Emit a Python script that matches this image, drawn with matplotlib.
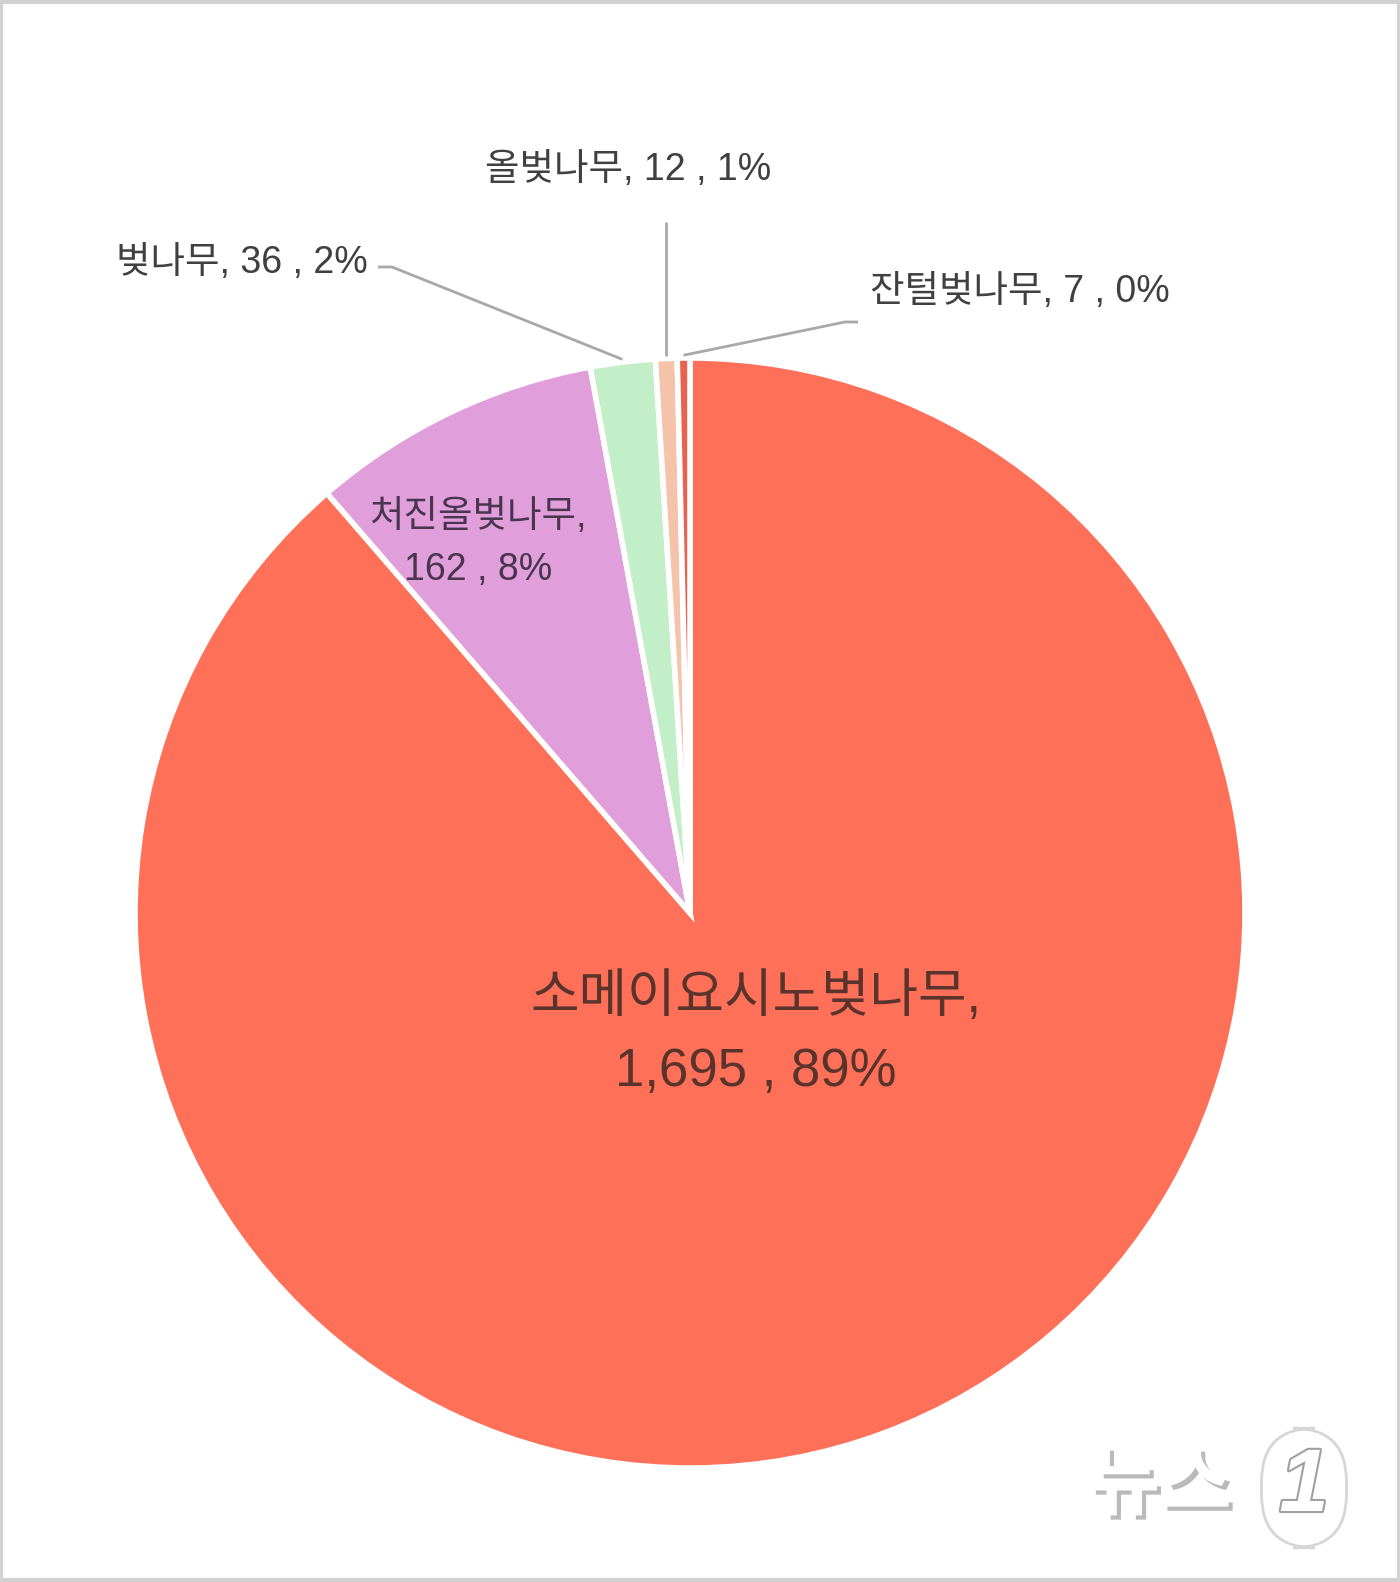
import numpy as np
import matplotlib
matplotlib.use("Agg")
import matplotlib.pyplot as plt
import matplotlib.patheffects as pe
from matplotlib.patches import Rectangle

plt.rcParams["font.family"] = ["Liberation Sans", "Noto Sans CJK KR", "DejaVu Sans"]

# ── data ─────────────────────────────────────────────────────────────────────
species = ["소메이요시노벚나무", "처진올벚나무", "벚나무", "올벚나무", "잔털벚나무"]
counts = [1695, 162, 36, 12, 7]
pct_labels = ["89%", "8%", "2%", "1%", "0%"]
colors = ["#FF7058", "#E09EDB", "#C2EFC8", "#F5C3AA", "#E8634F"]

W, H = 1400, 1582
CX, CY, R = 690, H - 913, 555

fig = plt.figure(figsize=(W / 100, H / 100), dpi=100)
fig.patch.set_facecolor("white")
ax = fig.add_axes([0, 0, 1, 1])

wedges, _ = ax.pie(counts, colors=colors, startangle=90, counterclock=False,
                   center=(CX, CY), radius=R,
                   wedgeprops=dict(edgecolor="white", linewidth=4))
ax.set_xlim(0, W)
ax.set_ylim(0, H)
ax.set_aspect("equal")
ax.axis("off")


def fmt(n):
    return f"{n:,}"


# labels inside the slices
ax.text(756, H - 998, f"{species[0]},", ha="center", va="center",
        fontsize=38, color="#5a342c")
ax.text(756, H - 1072, f"{fmt(counts[0])} , {pct_labels[0]}", ha="center",
        va="center", fontsize=38, color="#5a342c")
ax.text(478, H - 517, f"{species[1]},", ha="center", va="center",
        fontsize=27, color="#4a3550")
ax.text(478, H - 570, f"{fmt(counts[1])} , {pct_labels[1]}", ha="center",
        va="center", fontsize=27, color="#4a3550")


def anchor(w):
    mid = np.deg2rad((w.theta1 + w.theta2) / 2)
    return CX + R * 1.005 * np.cos(mid), CY + R * 1.005 * np.sin(mid)


line_kw = dict(color="#a8a8a8", linewidth=2, solid_capstyle="butt")

# 벚나무 label
ax.text(368, H - 263, f"{species[2]}, {counts[2]} , {pct_labels[2]}",
        ha="right", va="center", fontsize=27, color="#404040")
x0, y0 = anchor(wedges[2])
ax.plot([378, 392, x0], [H - 267, H - 267, y0], **line_kw)

# 올벚나무 label
ax.text(628, H - 170, f"{species[3]}, {counts[3]} , {pct_labels[3]}",
        ha="center", va="center", fontsize=27, color="#404040")
x0, y0 = anchor(wedges[3])
ax.plot([x0, x0], [H - 222, y0], **line_kw)

# 잔털벚나무 label
ax.text(870, H - 292, f"{species[4]}, {counts[4]} , {pct_labels[4]}",
        ha="left", va="center", fontsize=27, color="#404040")
x0, y0 = anchor(wedges[4])
ax.plot([858, 845, x0], [H - 322, H - 322, y0], **line_kw)

# watermark
shadow = [pe.SimplePatchShadow(offset=(3, -3), shadow_rgbFace="#666666", alpha=0.45),
          pe.Normal()]
ax.text(1160, H - 1488, "뉴스", ha="center", va="center", fontsize=56,
        fontweight="bold", color="white", path_effects=shadow)
ax.text(1304, H - 1488, "1", ha="center", va="center", fontsize=64,
        fontweight="bold", style="italic", color="white",
        bbox=dict(boxstyle="round,pad=0.2,rounding_size=0.6", fc="white",
                  ec="#d6d6d6", lw=2),
        path_effects=[pe.withStroke(linewidth=3, foreground="#a0a0a0")])

# frame
fig.patches.append(Rectangle((0.001, 0.001), 0.998, 0.998, transform=fig.transFigure,
                             fill=False, edgecolor="#d2d2d2", linewidth=3))

fig.savefig("out.png", dpi=100, facecolor="white")
